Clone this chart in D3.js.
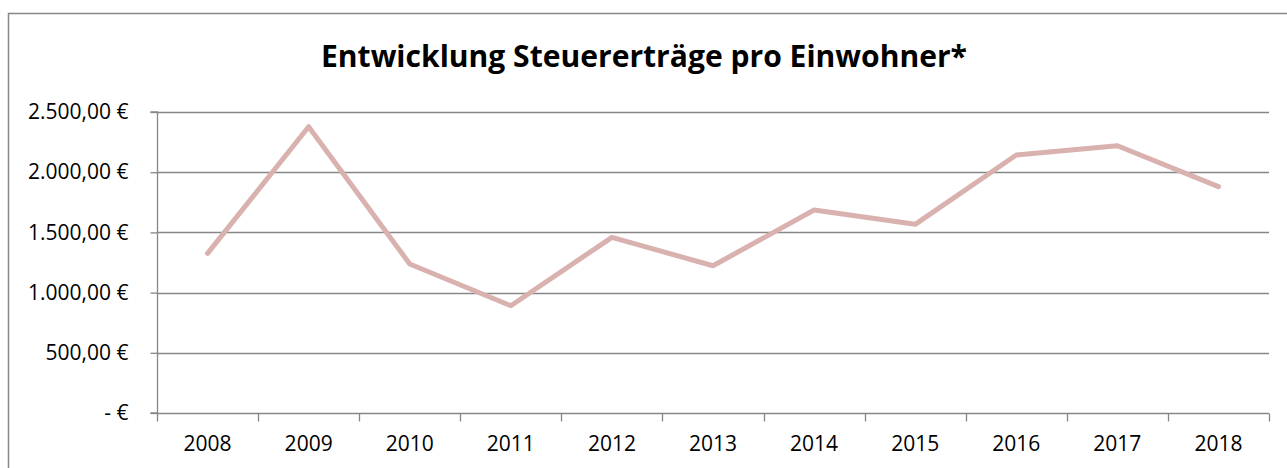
<!DOCTYPE html>
<html>
<head>
<meta charset="utf-8">
<script src="https://cdn.jsdelivr.net/npm/d3@7"></script>
<style>
  body { margin: 0; background: #fff; }
  text { font-family: "Open Sans", sans-serif; fill: #000; }
</style>
</head>
<body>
<div id="chart"></div>
<script>
var years = ["2008", "2009", "2010", "2011", "2012", "2013", "2014", "2015", "2016", "2017", "2018"];
var taxPerCapita = [1326, 2378, 1238, 891, 1459, 1223, 1686, 1567, 2143, 2220, 1880];
var yTicks = [0, 500, 1000, 1500, 2000, 2500];
var title = "Entwicklung Steuererträge pro Einwohner*";

var width = 1287,
    height = 468;
var margin = { top: 112, right: 18, bottom: 55, left: 157 };

var svg = d3.select("#chart")
    .append("svg")
    .attr("width", width)
    .attr("height", height);

// outer chart frame (only top and left visible in the crop)
svg.append("path")
    .attr("d", "M8.5," + height + "V13.5H" + width)
    .attr("fill", "none")
    .attr("stroke", "#878787")
    .attr("stroke-width", 1.5);

svg.append("text")
    .attr("x", 644)
    .attr("y", 67)
    .attr("text-anchor", "middle")
    .attr("font-size", 30)
    .attr("font-weight", "bold")
    .attr("textLength", 646)
    .attr("lengthAdjust", "spacingAndGlyphs")
    .text(title);

var x = d3.scaleBand()
    .domain(years)
    .range([margin.left, width - margin.right]);

var y = d3.scaleLinear()
    .domain([0, 2500])
    .range([height - margin.bottom, margin.top]);

function euro(v) {
    if (v === 0) return "- €";
    return d3.format(",.2f")(v).replace(/,/g, "#").replace(".", ",").replace(/#/g, ".") + " €";
}

// gridlines
svg.append("g")
    .selectAll("line")
    .data(yTicks.slice(1))
    .enter().append("line")
    .attr("x1", margin.left)
    .attr("x2", width - margin.right)
    .attr("y1", function (d) { return Math.round(y(d)) + 0.5; })
    .attr("y2", function (d) { return Math.round(y(d)) + 0.5; })
    .attr("stroke", "#878787")
    .attr("stroke-width", 1.3);

var yAxis = svg.append("g")
    .attr("transform", "translate(" + (margin.left + 0.5) + ",0)")
    .call(d3.axisLeft(y).tickValues(yTicks).tickSize(7).tickPadding(22).tickFormat(euro));

var xAxis = svg.append("g")
    .attr("transform", "translate(0," + (Math.round(y(0)) + 0.5) + ")")
    .call(d3.axisBottom(x).tickSize(0).tickPadding(23));

// tick marks on band boundaries
xAxis.append("g")
    .selectAll("line")
    .data(years.map(function (d) { return x(d); }).concat([width - margin.right]))
    .enter().append("line")
    .attr("x1", function (d) { return Math.round(d) + 0.5; })
    .attr("x2", function (d) { return Math.round(d) + 0.5; })
    .attr("y1", 0)
    .attr("y2", 8)
    .attr("stroke", "#878787")
    .attr("stroke-width", 1.3);

[yAxis, xAxis].forEach(function (g) {
    g.select(".domain").attr("stroke", "#878787").attr("stroke-width", 1.3);
    g.selectAll(".tick line").attr("stroke", "#878787").attr("stroke-width", 1.3);
    g.selectAll(".tick text")
        .attr("font-family", "Open Sans, sans-serif")
        .attr("font-size", 21)
        .attr("fill", "#000");
});
yAxis.select(".domain").attr("d", "M-7," + y(0) + "H0V" + y(2500) + "H-7");
xAxis.select(".domain").attr("d", "M" + margin.left + ",0H" + (width - margin.right));

var line = d3.line()
    .x(function (d, i) { return x(years[i]) + x.bandwidth() / 2; })
    .y(function (d) { return y(d); });

svg.append("path")
    .datum(taxPerCapita)
    .attr("d", line)
    .attr("fill", "none")
    .attr("stroke", "#d9b1af")
    .attr("stroke-width", 5)
    .attr("stroke-linecap", "round")
    .attr("stroke-linejoin", "round");
</script>
</body>
</html>
